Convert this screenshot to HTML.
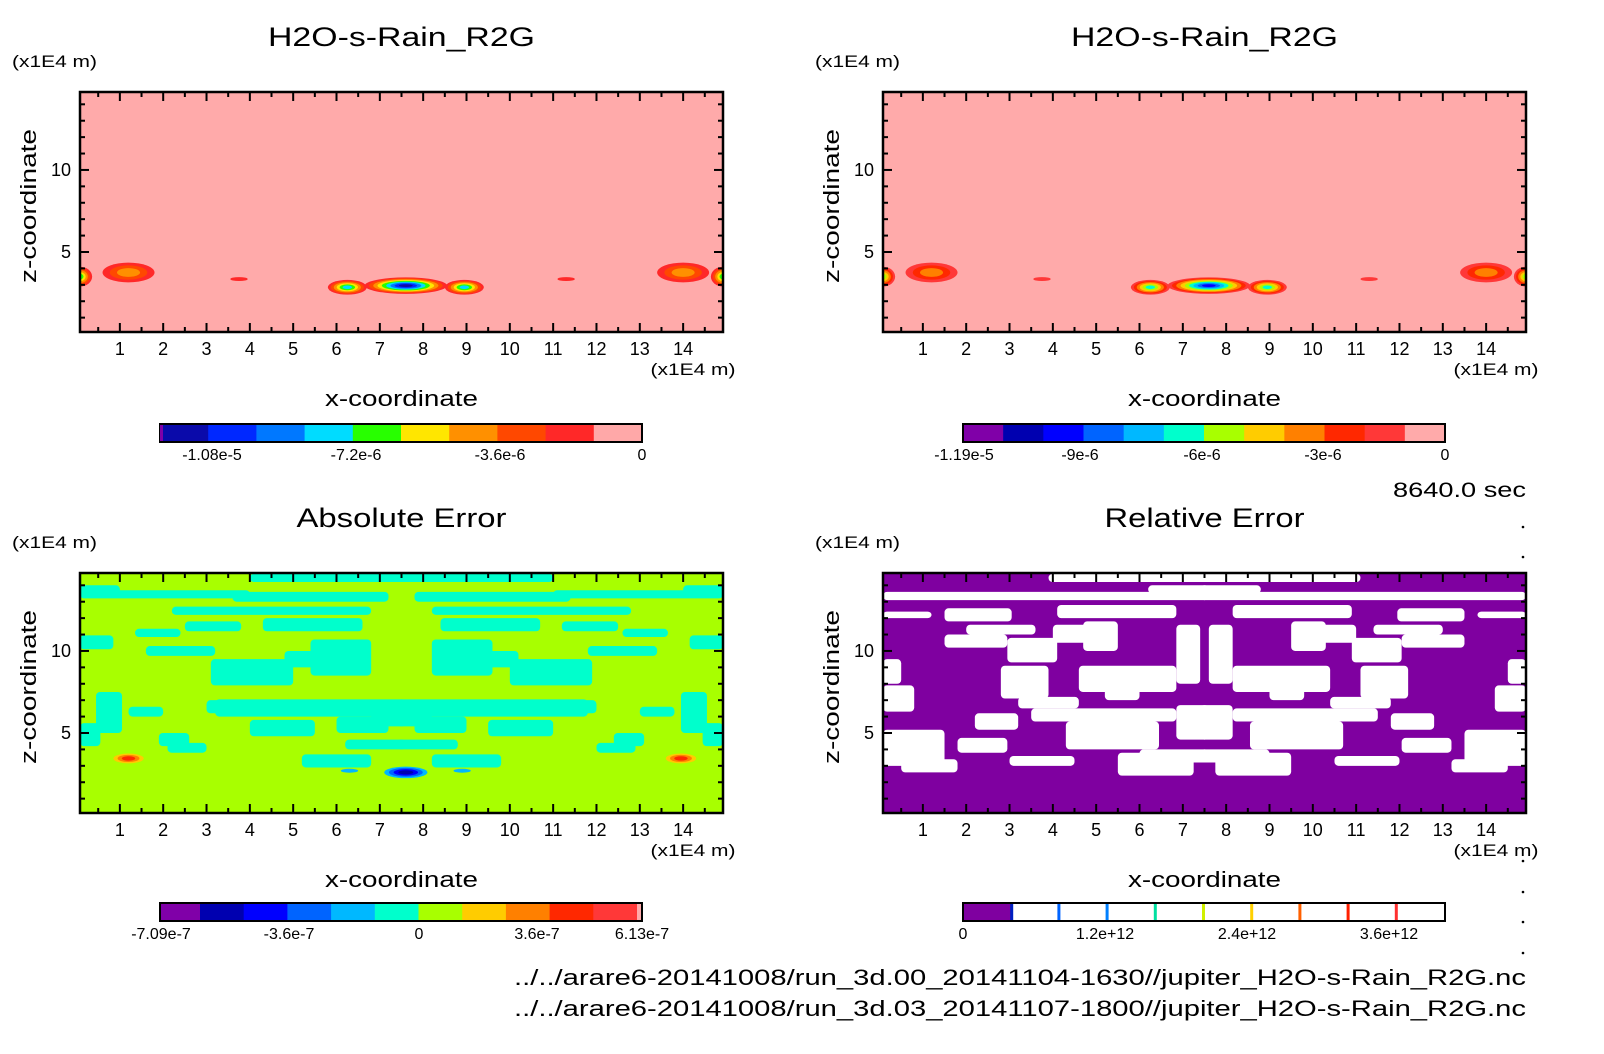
<!DOCTYPE html>
<html><head><meta charset="utf-8">
<style>
html,body{margin:0;padding:0;background:#fff;}
svg{display:block;}
text{font-family:"Liberation Sans",sans-serif;fill:#000;}
</style></head>
<body>
<svg id="fig" width="1604" height="1054" viewBox="0 0 1604 1054" xmlns="http://www.w3.org/2000/svg">
<text x="1526" y="497" font-size="21" text-anchor="end" textLength="133" lengthAdjust="spacingAndGlyphs">8640.0 sec</text>
<text x="1526" y="985" font-size="22" text-anchor="end" textLength="1012" lengthAdjust="spacingAndGlyphs">../../arare6-20141008/run_3d.00_20141104-1630//jupiter_H2O-s-Rain_R2G.nc</text>
<text x="1526" y="1016" font-size="22" text-anchor="end" textLength="1012" lengthAdjust="spacingAndGlyphs">../../arare6-20141008/run_3d.03_20141107-1800//jupiter_H2O-s-Rain_R2G.nc</text>
</svg>
<script>
// ---- data ----
const xTicks = [1,2,3,4,5,6,7,8,9,10,11,12,13,14];
const zTicks = [5,10];
const xRange = [0.08,14.92];
const zRange = [0.125,14.75];
const topPaletteA = ["#0a0aaa","#0028ff","#0078ff","#00dcff","#28ff00","#ffe600","#ff9000","#ff4800","#ff2828","#ffa8a8"];
const topLabelsA = ["-1.08e-5","-7.2e-6","-3.6e-6","0"];
const topPaletteB = ["#8000a8","#0000b0","#0000ff","#0064ff","#00b8ff","#00ffcc","#a8ff00","#ffcc00","#ff8000","#ff2800","#ff3838","#ffaaaa"];
const topLabelsB = ["-1.19e-5","-9e-6","-6e-6","-3e-6","0"];
const absPalette = ["#8000a8","#0000b0","#0000ff","#0064ff","#00b8ff","#00ffcc","#a8ff00","#ffcc00","#ff8000","#ff2800","#ff3838","#ffaaaa"];
const absLabels = ["-7.09e-7","-3.6e-7","0","3.6e-7","6.13e-7"];
const relLines = ["#0020c0","#0064ff","#0080ff","#00e0a0","#d0f000","#ffd000","#ff6000","#ff2000","#ff3030"];
const relLabels = ["0","1.2e+12","2.4e+12","3.6e+12"];
// rain blobs: x, z, rx, rz, depth
const rainBlobs = [[0.08,3.5,0.28,0.6,5],[1.2,3.75,0.6,0.6,3],[3.75,3.35,0.2,0.12,1],[6.25,2.85,0.45,0.45,6],[7.6,2.95,0.95,0.5,9],[8.95,2.85,0.45,0.45,6],[11.3,3.35,0.2,0.12,1],[14.0,3.75,0.6,0.6,3],[14.92,3.5,0.28,0.6,5]];
// abs error patches (left half, mirrored about 7.5): x1,x2,z1,z2
const absPatches = [[4.0,7.6,14.2,14.7],[0.08,4.0,13.2,13.7],[3.6,7.2,13.0,13.6],[2.2,6.8,12.2,12.7],[1.35,2.4,10.85,11.35],[0.08,0.85,10.1,10.95],[4.3,6.6,11.2,12.0],[5.4,6.8,8.5,10.7],[1.6,3.2,9.7,10.3],[3.1,5.0,7.9,9.5],[3.2,7.6,6.0,7.05],[4.0,5.5,4.8,5.8],[6.0,7.2,5.0,6.0],[0.45,1.05,5.0,7.5],[1.9,2.6,4.2,5.0],[2.1,3.0,3.8,4.4],[0.08,0.55,4.2,5.6],[5.2,6.8,2.9,3.7],[6.8,7.6,5.4,6.2],[0.08,1.0,13.3,14.0],[2.5,3.8,11.2,11.8],[4.8,5.6,9.0,10.0],[3.0,4.5,6.2,7.0],[1.2,2.0,6.0,6.6],[6.2,7.6,4.0,4.6]];
// rel error white patches (left half, mirrored)
const relPatches = [[3.9,7.6,14.2,14.7],[0.08,7.6,13.1,13.6],[1.5,3.05,11.8,12.6],[4.1,6.85,12.0,12.8],[1.5,2.95,10.2,11.0],[4.7,5.5,10.0,11.8],[6.85,7.4,8.0,11.6],[4.6,6.85,7.5,9.1],[2.8,3.9,7.1,9.1],[3.5,6.85,5.7,6.5],[4.3,6.45,4.0,5.7],[6.85,7.6,4.6,6.7],[0.08,0.8,6.3,7.9],[0.08,1.5,3.0,5.2],[1.8,2.95,3.8,4.7],[5.5,7.25,2.4,3.8],[2.95,4.1,9.3,10.8],[0.08,1.2,12.0,12.4],[2.0,3.6,11.0,11.6],[0.08,0.5,8.0,9.5],[3.2,4.6,6.5,7.2],[2.2,3.2,5.2,6.2],[0.5,1.8,2.6,3.4],[3.0,4.5,3.0,3.6],[6.0,7.6,3.2,4.0],[5.2,6.0,7.0,8.0],[4.0,4.8,10.5,11.6],[6.2,7.6,13.5,14.0]];
const absRed = [[1.2,3.45,0.35,0.3,3],[13.95,3.45,0.35,0.3,3]];
const absBlue = [[7.6,2.6,0.5,0.35,4],[6.3,2.7,0.2,0.12,1],[8.9,2.7,0.2,0.12,1]];

const NS="http://www.w3.org/2000/svg";
const svg=document.getElementById('fig');
function mk(tag,attrs,parent){const e=document.createElementNS(NS,tag);for(const k in attrs)e.setAttribute(k,attrs[k]);(parent||svg).appendChild(e);return e;}
function txt(s,attrs,parent){const e=mk('text',attrs,parent);e.textContent=s;return e;}

function panel(id,X0,Y0,W,H,title,bg,titleLen){
  const sx=x=>X0+(x-xRange[0])/(xRange[1]-xRange[0])*W;
  const sz=z=>Y0+H-(z-zRange[0])/(zRange[1]-zRange[0])*H;
  const g=mk('g',{});
  
  
  const cp=mk('clipPath',{id:id+'-clip'},g);
  mk('rect',{x:X0,y:Y0,width:W,height:H},cp);
  const field=mk('g',{'clip-path':'url(#'+id+'-clip)'},g);
  
  
  mk('rect',{x:X0,y:Y0,width:W,height:H,fill:bg},field);
  const t=txt(title,{x:X0+W/2,y:Y0-46,'font-size':27,'text-anchor':'middle',textLength:titleLen,lengthAdjust:'spacingAndGlyphs'},g);
  
  
  const u=txt('(x1E4 m)',{x:X0-68,y:Y0-25,'font-size':17,textLength:85,lengthAdjust:'spacingAndGlyphs'},g);
  
  
  const u2=txt('(x1E4 m)',{x:X0+W-30,y:Y0+H+43,'font-size':17,'text-anchor':'middle',textLength:85,lengthAdjust:'spacingAndGlyphs'},g);
  
  
  const xt=txt('x-coordinate',{x:X0+W/2,y:Y0+H+74,'font-size':22,'text-anchor':'middle',textLength:153,lengthAdjust:'spacingAndGlyphs'},g);
  
  
  const yt=txt('z-coordinate',{x:0,y:0,'font-size':22,'text-anchor':'middle',textLength:154,lengthAdjust:'spacingAndGlyphs',transform:'translate('+(X0-44)+','+(Y0+H/2-6)+') rotate(-90)'},g);
  
  
  return {g,field,sx,sz,X0,Y0,W,H};
}
function axes(p){
  const {g,sx,sz,X0,Y0,W,H}=p;
  const tg=mk('g',{stroke:'#000','stroke-width':2},g);
  
  
  for(let v=0.5;v<xRange[1];v+=0.5){
    if(v<xRange[0])continue;
    const big=Number.isInteger(v);const L=big?9:5;const x=sx(v);
    mk('line',{x1:x,y1:Y0+H,x2:x,y2:Y0+H-L},tg);
    mk('line',{x1:x,y1:Y0,x2:x,y2:Y0+L},tg);
  }
  for(let v=1;v<zRange[1];v++){
    const big=zTicks.includes(v);const L=big?9:5;const y=sz(v);
    mk('line',{x1:X0,y1:y,x2:X0+L,y2:y},tg);
    mk('line',{x1:X0+W,y1:y,x2:X0+W-L,y2:y},tg);
  }
  xTicks.forEach(v=>{const t=txt(String(v),{x:sx(v),y:Y0+H+23,'font-size':18,'text-anchor':'middle'},g);
    
    });
  zTicks.forEach(v=>{const t=txt(String(v),{x:X0-9,y:sz(v)+6,'font-size':18,'text-anchor':'end'},g);
    
    });
  const f=mk('rect',{x:X0,y:Y0,width:W,height:H,fill:'none',stroke:'#000','stroke-width':2.5},g);
  
  
}
function blobs(p,list,colors,startIdx,dir){
  list.forEach(b=>{
    const [x,z,rx,rz,d]=b;
    for(let k=0;k<d;k++){
      const f=1-k/(d+0.6);
      const c=colors[startIdx+dir*k];
      const e=mk('ellipse',{cx:p.sx(x),cy:p.sz(z),rx:rx*f*(p.W/(xRange[1]-xRange[0])),ry:rz*f*(p.H/(zRange[1]-zRange[0])),fill:c},p.field);
      
      
    }
  });
}
function patches(p,list,color){
  list.forEach(r=>{
    const [x1,x2,z1,z2]=r;
    [[x1,x2],[15-x2,15-x1]].forEach(([a,b])=>{
      const e=mk('rect',{x:p.sx(a),y:p.sz(z2),width:p.sx(b)-p.sx(a),height:p.sz(z1)-p.sz(z2),fill:color,rx:4},p.field);
      
      
    });
  });
}
function colorbar(name,x0,y0,w,h,colors){
  const g=mk('g',{});
  
  
  const n=colors.length;const segW=w/n;
  colors.forEach((c,i)=>{mk('rect',{x:x0+i*segW,y:y0,width:segW+0.5,height:h,fill:c},g);});
  mk('rect',{x:x0,y:y0,width:w,height:h,fill:'none',stroke:'#000','stroke-width':2},g);
  return g;
}
function cbLabels(g,labels,pos,y){
  labels.forEach((s,i)=>{const t=txt(s,{x:pos[i],y:y,'font-size':16,'text-anchor':'middle'},g);
    
    });
}

// Panel TL
const p1=panel('rain-original',80,92,643,240,'H2O-s-Rain_R2G','#ffaaaa',267);
blobs(p1,rainBlobs,topPaletteA,8,-1);
axes(p1);
const cb1=colorbar('colorbar-rain-original',160,424,482,18,topPaletteA);
mk('rect',{x:160,y:425,width:3,height:16,fill:'#8000a8'},cb1);
cbLabels(cb1,topLabelsA,[212,356,500,642],460);

// Panel TR
const p2=panel('rain-modified',883,92,643,240,'H2O-s-Rain_R2G','#ffaaaa',267);
blobs(p2,rainBlobs,topPaletteB,10,-1);
axes(p2);
const cb2=colorbar('colorbar-rain-modified',963,424,482,18,topPaletteB);
cbLabels(cb2,topLabelsB,[964,1080,1202,1323,1445],460);

// Panel BL
const p3=panel('absolute-error',80,573,643,240,'Absolute Error','#a8ff00',210);
patches(p3,absPatches,'#00ffcc');
blobs(p3,absRed,['#ffcc00','#ff8000','#ff2800'],0,1);
blobs(p3,absBlue,['#00b8ff','#0064ff','#0000ff','#0000b0'],0,1);
axes(p3);
const cb3=mk('g',{});


(function(){const x0=160,w=482,y0=903,h=18;const widths=[40,43.7,43.7,43.7,43.7,43.7,43.7,43.7,43.7,43.7,43.7,5];let x=x0;
 absPalette.forEach((c,i)=>{mk('rect',{x:x,y:y0,width:widths[i]+0.5,height:h,fill:c},cb3);x+=widths[i];});
 mk('rect',{x:x0,y:y0,width:w,height:h,fill:'none',stroke:'#000','stroke-width':2},cb3);})();
cbLabels(cb3,absLabels,[161,289,419,537,642],939);

// Panel BR
const p4=panel('relative-error',883,573,643,240,'Relative Error','#7f00a0',200);
patches(p4,relPatches,'#ffffff');
axes(p4);
const cb4=mk('g',{});


(function(){const x0=963,w=482,y0=903,h=18,sw=w/10;
 mk('rect',{x:x0,y:y0,width:w,height:h,fill:'#fff'},cb4);
 mk('rect',{x:x0,y:y0,width:sw,height:h,fill:'#7f00a0'},cb4);
 relLines.forEach((c,i)=>{mk('rect',{x:x0+sw*(i+1)+(i==0?-1:-2),y:y0,width:3,height:h,fill:c},cb4);});
 mk('rect',{x:x0,y:y0,width:w,height:h,fill:'none',stroke:'#000','stroke-width':2},cb4);})();
cbLabels(cb4,relLabels,[963,1105,1247,1389],939);

// dots
[527,557,861,892,922,953].forEach(y=>{const d=mk('circle',{cx:1523,cy:y,r:1.3,fill:'#000'});
  
  });
</script>
</body></html>
